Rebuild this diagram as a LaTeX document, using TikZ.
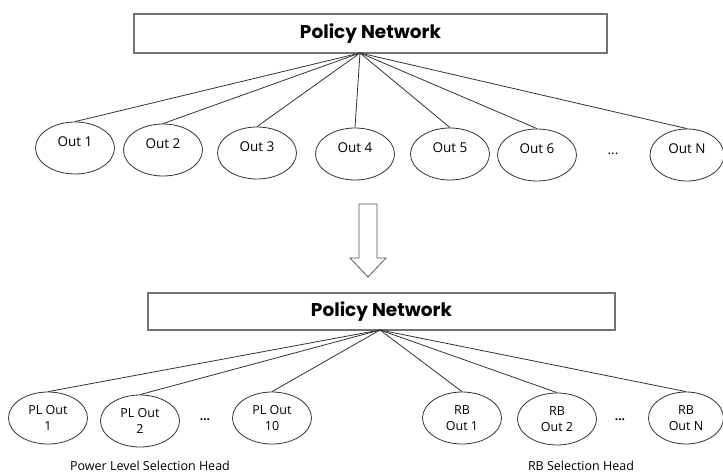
\documentclass[tikz,border=0pt]{standalone}
\usepackage{fontspec}
\setmainfont{Open Sans}
\newfontfamily\headfont{Poppins}
\usetikzlibrary{shapes.geometric}

\tikzset{
  netbox/.style={draw=black!55, line width=1.3pt, rectangle, inner sep=0pt,
    font=\headfont\bfseries\fontsize{18.5}{22}\selectfont},
  outell/.style={draw=black!80, line width=0.8pt, ellipse, inner sep=0pt,
    minimum width=79pt, minimum height=52pt},
  outlbl/.style={font=\fontsize{13.5}{15}\selectfont, inner sep=0pt},
  twolbl/.style={font=\fontsize{12.5}{16}\selectfont, align=center, inner sep=0pt},
  headlbl/.style={font=\fontsize{12.5}{14}\selectfont, inner sep=0pt},
  wire/.style={draw=black!80, line width=0.8pt}
}

\begin{document}
\begin{tikzpicture}[x=1pt,y=-1pt]
\useasboundingbox (0,0) rectangle (723,473);

% before
\begin{scope}
\node[netbox, minimum width=473pt, minimum height=39pt] (pn1) at (370.5,33.5) {Policy Network};
\coordinate (apex1) at (360,53);

\foreach \x/\y/\t/\n in {75/148/Out 1/1, 163/150/Out 2/2, 257/153/Out 3/3,
  355/154/Out 4/4, 450/154/Out 5/5, 537/155/Out 6/6}{
  \node[outell] (o\n) at (\x,\y) {};
  \node[outlbl] (t\n) at (\x,\y-6) {\t};
  \draw[wire] (apex1) -- (o\n.north);
}
\node[outell, minimum width=74pt] (oN) at (687,155) {};
\node[outlbl] (tN) at (687,149) {Out N};
\draw[wire] (apex1) -- (oN.north);
\node[outlbl] (dots1) at (613,154) {...};
\end{scope}

% arrow
\draw[draw=black!65, line width=0.8pt, fill=white]
  (359,204) coordinate (ar) -- (377,204) -- (377,258) -- (386,258) -- (368,277) -- (350,258) -- (359,258) -- cycle;

% after
\begin{scope}
\node[netbox, minimum width=467pt, minimum height=37pt] (pn2) at (381.5,311.5) {Policy Network};
\coordinate (apex2) at (380,330);

\foreach \x/\y/\t/\n in {48/418/PL Out\\1/p1, 140/421/PL Out\\2/p2, 272/418/PL Out\\10/p10,
  462/418/RB\\Out 1/r1, 557/419/RB\\Out 2/r2}{
  \node[outell] (o\n) at (\x,\y) {};
  \node[twolbl] (t\n) at (\x,\y) {\t};
  \draw[wire] (apex2) -- (o\n.north);
}
\node[outell, minimum width=75pt] (orN) at (686,418) {};
\node[twolbl] (trN) at (686,418) {RB\\Out N};
\draw[wire] (apex2) -- (orN.north);

\node[outlbl, font=\bfseries\fontsize{12}{12}\selectfont] (dots2) at (205,420) {...};
\node[outlbl, font=\bfseries\fontsize{12}{12}\selectfont] (dots3) at (620,420) {...};

\node[headlbl] (plhead) at (150,466) {Power Level Selection Head};
\node[headlbl] (rbhead) at (581,466) {RB Selection Head};
\end{scope}

\end{tikzpicture}
\end{document}
